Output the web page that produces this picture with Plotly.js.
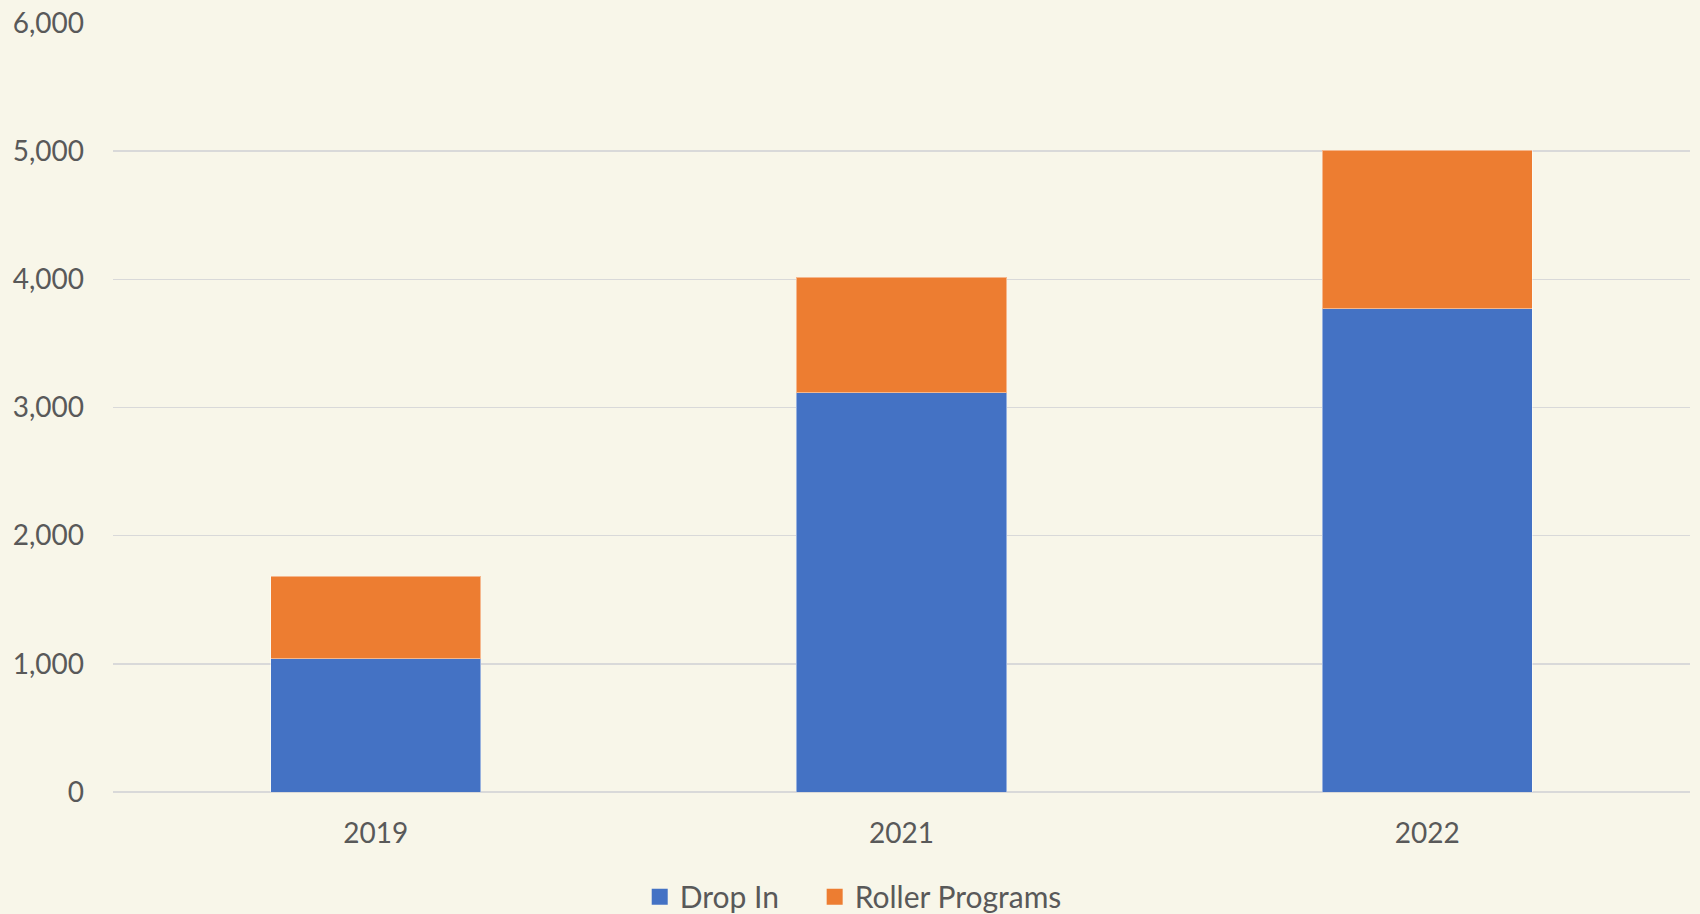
<!DOCTYPE html>
<html>
<head>
<meta charset="utf-8">
<script src="https://cdn.plot.ly/plotly-3.0.1.min.js"></script>
<style>
html,body{margin:0;padding:0;background:#F8F6E9;}
#chart{width:1700px;height:914px;}
</style>
</head>
<body>
<div id="chart"></div>
<script>
const years = ["2019", "2021", "2022"];
const dropIn = [1040, 3115, 3771];
const rollerPrograms = [645, 900, 1238];
const yTickVals = [0, 1000, 2000, 3000, 4000, 5000, 6000];
const yTickText = ["0", "1,000", "2,000", "3,000", "4,000", "5,000", "6,000"];

const fontFam = "Lato, 'Open Sans', sans-serif";
const textColor = "#595959";
const blue = "#4472C4";
const orange = "#ED7D31";
const pad = "\u00a0\u00a0\u00a0\u00a0";

const traces = [
  {
    type: "bar", name: "Drop In", x: years, y: dropIn, showlegend: false,
    marker: {color: blue, line: {color: "rgba(255,255,255,0.45)", width: 1}},
    hoverinfo: "skip"
  },
  {
    type: "bar", name: "Roller Programs", x: years, y: rollerPrograms, showlegend: false,
    marker: {color: orange, line: {color: "rgba(255,255,255,0.45)", width: 1}},
    hoverinfo: "skip"
  },
  {
    type: "scatter", mode: "markers", name: "Drop In" + pad, x: [years[0]], y: [null],
    marker: {symbol: "square", size: 18, color: blue}, hoverinfo: "skip"
  },
  {
    type: "scatter", mode: "markers", name: "Roller Programs", x: [years[0]], y: [null],
    marker: {symbol: "square", size: 18, color: orange}, hoverinfo: "skip"
  }
];

const layout = {
  width: 1700, height: 914,
  barmode: "stack",
  bargap: 0.6,
  paper_bgcolor: "#F8F6E9",
  plot_bgcolor: "#F8F6E9",
  font: {family: fontFam, color: textColor, size: 28},
  margin: {l: 113, r: 10, t: 23, b: 122},
  xaxis: {
    type: "category",
    showgrid: false, zeroline: false, showline: false,
    ticks: "", tickfont: {size: 28, color: textColor},
    ticklabelstandoff: 22
  },
  yaxis: {
    range: [0, 6000],
    tickvals: yTickVals, ticktext: yTickText,
    showgrid: true, gridcolor: "#D9D9D9", gridwidth: 1.5,
    zeroline: true, zerolinecolor: "#D9D9D9", zerolinewidth: 1.5,
    showline: false, ticks: "",
    tickfont: {size: 28, color: textColor},
    ticklabelstandoff: 28
  },
  legend: {
    orientation: "h", x: 0.334, xref: "paper", xanchor: "left",
    y: 0.019, yref: "container", yanchor: "middle",
    font: {size: 30, color: textColor},
    bgcolor: "rgba(0,0,0,0)",
    traceorder: "normal",
    itemwidth: 30
  },
  showlegend: true
};

Plotly.newPlot("chart", traces, layout, {displayModeBar: false, staticPlot: true});
</script>
</body>
</html>
